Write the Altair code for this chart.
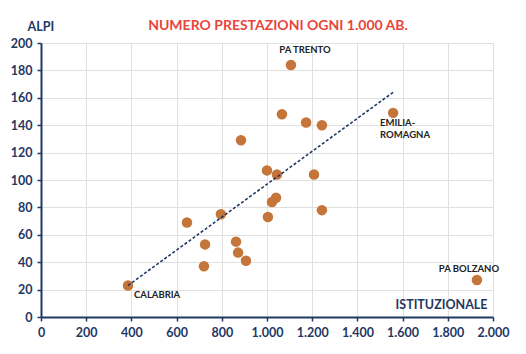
import altair as alt
import pandas as pd

# Data
x_vals = [1106, 385, 1558, 1929, 1066, 1173, 1243, 885, 1000, 1044, 1208,
          1040, 1022, 1243, 796, 646, 1004, 726, 863, 872, 907, 721]
y_vals = [184, 23, 149, 27, 148, 142, 140, 129, 107, 104, 104,
          87, 84, 78, 75, 69, 73, 53, 55, 47, 41, 37]

label_names = ["PA TRENTO", "EMILIA-\nROMAGNA", "PA BOLZANO", "CALABRIA"]
label_x = [1106, 1558, 1929, 385]
label_y = [184, 149, 27, 23]

trend_x = [385, 1558]
trend_y = [23, 164]

x_ticks = [0, 200, 400, 600, 800, 1000, 1200, 1400, 1600, 1800, 2000]
y_ticks = [0, 20, 40, 60, 80, 100, 120, 140, 160, 180, 200]

title_text = ["NUMERO PRESTAZIONI OGNI 1.000 AB."]

pts = pd.DataFrame({"x": x_vals, "y": y_vals})
trend = pd.DataFrame({"x": trend_x, "y": trend_y})
labels = pd.DataFrame({"name": label_names, "x": label_x, "y": label_y})
tdf = pd.DataFrame({"t": title_text})

NAVY = "#1F3864"
FONT = "Lato"

xscale = alt.Scale(domain=[0, 2000], nice=False, zero=True)
yscale = alt.Scale(domain=[0, 200], nice=False, zero=True)

xax = alt.Axis(values=x_ticks, grid=True, gridColor="#E0E0E0",
               domainColor=NAVY, domainWidth=2, tickColor=NAVY, tickSize=4, tickWidth=1.5,
               labelColor=NAVY, labelFont=FONT, labelFontSize=12.5, labelFontWeight="bold",
               labelPadding=5, labelFlush=False, labelOverlap=False,
               labelExpr="replace(format(datum.value, ','), ',', '.')",
               title="ISTITUZIONALE", titleColor=NAVY, titleFont=FONT, titleFontSize=12.5,
               titleFontWeight="bold", titleX=446, titleY=-13, titleAlign="right",
               titleBaseline="middle", titleAnchor="end")
yax = alt.Axis(values=y_ticks, grid=True, gridColor="#E0E0E0",
               domainColor=NAVY, domainWidth=2, tickColor=NAVY, tickSize=4, tickWidth=1.5,
               labelColor=NAVY, labelFont=FONT, labelFontSize=12.5, labelFontWeight="bold",
               labelPadding=5, labelOverlap=False, labelFlush=False,
               title="ALPI", titleColor=NAVY, titleFont=FONT, titleFontSize=12.5,
               titleFontWeight="bold", titleAngle=0, titleX=-14, titleY=-17,
               titleAlign="left", titleBaseline="middle")

base_x = alt.X("x:Q", scale=xscale, axis=xax)
base_y = alt.Y("y:Q", scale=yscale, axis=yax)

points = alt.Chart(pts).mark_circle(size=110, color="#C5743A", opacity=1).encode(x=base_x, y=base_y)

line = alt.Chart(trend).mark_line(color=NAVY, strokeDash=[3, 2], strokeWidth=1.6).encode(
    x=base_x, y=base_y)

def lab(name, **kw):
    return alt.Chart(labels).transform_filter(alt.datum.name == name).mark_text(
        font=FONT, fontSize=9.5, fontWeight="bold", color="#222222", lineBreak="\n", **kw
    ).encode(x=base_x, y=base_y, text="name:N")

t1 = lab("PA TRENTO", align="center", baseline="middle", dx=14, dy=-15)
t2 = lab("EMILIA-\nROMAGNA", align="left", baseline="top", dx=-13, dy=5, lineHeight=12)
t3 = lab("PA BOLZANO", align="center", baseline="middle", dx=-8, dy=-11)
t4 = lab("CALABRIA", align="left", baseline="middle", dx=6, dy=10)

title = alt.Chart(tdf).mark_text(font=FONT, fontSize=14, fontWeight="bold", color="#E8453C",
                                 align="center", baseline="middle").encode(
    x=alt.value(237), y=alt.value(-17), text="t:N")

chart = alt.layer(points, line, t1, t2, t3, t4, title).properties(
    width=452, height=274,
    autosize=alt.AutoSizeParams(type="none"),
    padding={"left": 41, "top": 43, "right": 33, "bottom": 37},
).configure_view(stroke=None).configure(background="white")

chart.save("out.html", embed_options={"renderer": "svg", "actions": False})
